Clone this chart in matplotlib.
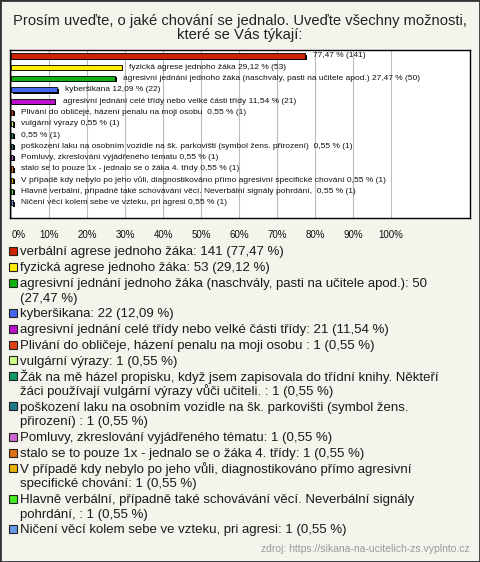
import textwrap
import numpy as np
import matplotlib
matplotlib.use("Agg")
import matplotlib.pyplot as plt
import matplotlib.transforms as mtransforms
from matplotlib.patches import Rectangle

plt.rcParams['font.family'] = ['Liberation Sans', 'DejaVu Sans']

title = ("Prosím uveďte, o jaké chování se jednalo. Uveďte všechny možnosti,\n"
         "které se Vás týkají:")

names = [
    "verbální agrese jednoho žáka",
    "fyzická agrese jednoho žáka",
    "agresivní jednání jednoho žáka (naschvály, pasti na učitele apod.)",
    "kyberšikana",
    "agresivní jednání celé třídy nebo velké části třídy",
    "Plivání do obličeje, házení penalu na moji osobu ",
    "vulgární výrazy",
    "Žák na mě házel propisku, když jsem zapisovala do třídní knihy. Někteří žáci používají vulgární výrazy vůči učiteli. ",
    "poškození laku na osobním vozidle na šk. parkovišti (symbol žens. přirození) ",
    "Pomluvy, zkreslování vyjádřeného tématu",
    "stalo se to pouze 1x - jednalo se o žáka 4. třídy",
    "V případě kdy nebylo po jeho vůli, diagnostikováno přímo agresivní specifické chování",
    "Hlavně verbální, případně také schovávání věcí. Neverbální signály pohrdání, ",
    "Ničení věcí kolem sebe ve vzteku, pri agresi",
]
counts = [141, 53, 50, 22, 21, 1, 1, 1, 1, 1, 1, 1, 1, 1]
percents = [77.47, 29.12, 27.47, 12.09, 11.54, 0.55, 0.55, 0.55, 0.55, 0.55, 0.55, 0.55, 0.55, 0.55]
# bars whose label next to the bar shows only the value
name_in_bar = [False, True, True, True, True, True, True, False, True, True, True, True, True, True]
colors = ["#cc2200", "#ffee00", "#11b011", "#4466ee", "#bb11cc", "#e04010", "#ccff88",
          "#119966", "#1f7a8c", "#cc66cc", "#e07010", "#e8b000", "#44ee22", "#6699e8"]
ticks = list(range(0, 101, 10))
source = "zdroj: https://sikana-na-ucitelich-zs.vyplnto.cz"

W, H = 480, 562


def fx(x):
    return x / W


def fy(y):
    return 1 - y / H


def pct(p):
    return f"{p:.2f}".replace(".", ",") + " %"


fig = plt.figure(figsize=(W / 100, H / 100), dpi=100, facecolor="#f4f3ec")
fig.patches.append(Rectangle((0, 0), 1, 1, transform=fig.transFigure, fill=False,
                             edgecolor="#333333", lw=2))

fig.text(0.5, fy(28), title, ha="center", va="center", fontsize=10.6,
         color="#222222", linespacing=1.0)

# bar chart
ax = fig.add_axes([fx(10), fy(218), fx(460), 168 / H])
ax.set_facecolor("white")
for s in ax.spines.values():
    s.set_color("black")
    s.set_linewidth(1)

rows = np.arange(len(names))
shadow = ax.barh(rows, percents, height=0.45, color="black", left=0)
off = mtransforms.ScaledTranslation(0.015, -0.012, fig.dpi_scale_trans)
for r in shadow:
    r.set_transform(ax.transData + off)
ax.barh(rows, percents, height=0.45, color=colors, edgecolor="black", linewidth=0.6)

for i, p in enumerate(percents):
    txt = f"{pct(p)} ({counts[i]})"
    if name_in_bar[i]:
        txt = names[i] + " " + txt
    ax.annotate(txt, (p, i), xytext=(5.5, 0), textcoords="offset points",
                va="center", fontsize=6, color="#111111")

ax.set_xlim(-0.3, 120.8)
ax.set_ylim(14.34, -0.53)
ax.set_xticks(ticks)
ax.set_xticklabels([f"{t}%" for t in ticks])
ax.get_xticklabels()[0].set_horizontalalignment("left")
ax.set_yticks([])
ax.tick_params(axis="x", length=0, pad=9, labelsize=7, colors="#111111")
ax.grid(axis="x", color="#bbbbbb", lw=0.8)
ax.set_axisbelow(True)

# legend
y = 251
for i, name in enumerate(names):
    label = f"{name}: {counts[i]} ({pct(percents[i])})"
    lines = textwrap.wrap(label, 72)
    fig.patches.append(Rectangle((fx(9), fy(y + 4)), 8 / W, 8 / H, transform=fig.transFigure,
                                 facecolor=colors[i], edgecolor="#222222", lw=0.8))
    for ln in lines:
        fig.text(fx(20), fy(y + 4.5), ln, ha="left", va="baseline", fontsize=9.5, color="#1a1a1a")
        y += 14.5
    y += 15.8 - 14.5

fig.text(fx(470), fy(549), source, ha="right", va="center", fontsize=7.5, color="#999999")

fig.savefig("out.png", dpi=100, facecolor=fig.get_facecolor())
